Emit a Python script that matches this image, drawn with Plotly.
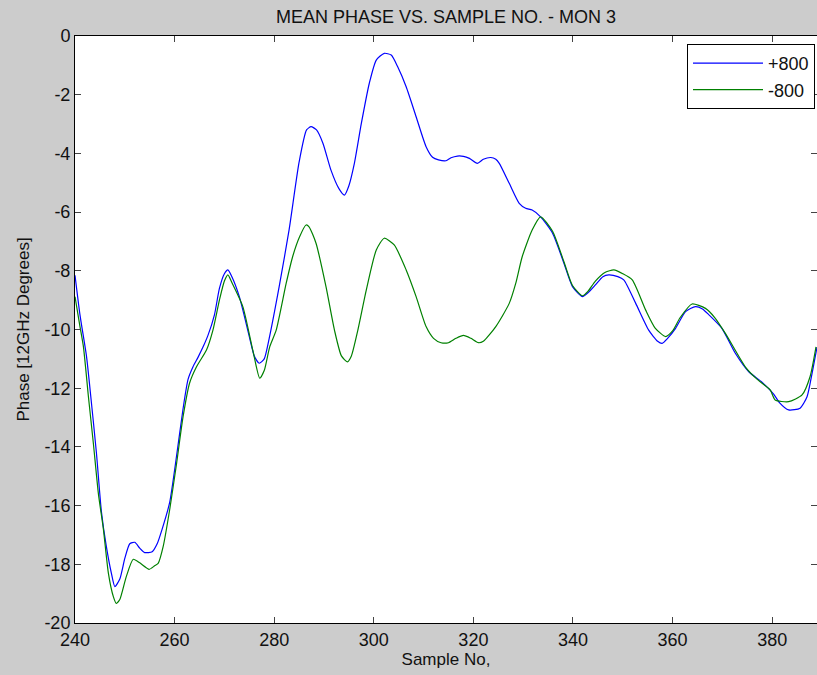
import plotly.graph_objects as go

# +800 series (blue)
x_pos = [240, 241, 242.3, 243, 244.3, 245.3, 246.3, 247.3, 248, 249, 250, 251, 252, 253, 254, 255.5,
         256.5, 257.5, 259, 260.4, 261.7, 262.7, 263.7, 264.7, 265.7, 266.7, 268, 269, 270, 270.7,
         271.5, 273, 275, 276, 277, 278, 279, 281, 283, 285, 286.5, 287.4, 288.5, 289.8, 291.4,
         293, 294.1, 295, 296.1, 297.5, 299.1, 300.5, 302.1, 303.5, 304.8, 306.5, 308.5, 310.5,
         311.8, 313, 314.5, 315.5, 316.8, 318, 319.2, 320.8, 322, 323.5, 324.5, 325.2, 327.2,
         329.2, 330.5, 331.8, 333.5, 335.9, 338.2, 339.9, 341.9, 343, 344.5, 346, 347.2, 349,
         350.2, 352.6, 355.2, 357, 357.9, 359, 360.6, 362.6, 364.6, 366, 367.3, 369.9, 372.6,
         375.3, 378, 380.3, 381.5, 383.3, 385.6, 387, 388, 389]
y_pos = [-8.15, -9.5, -10.9, -12.0, -14.2, -16.2, -17.4, -18.3, -18.76, -18.5, -17.8, -17.3, -17.25,
         -17.45, -17.6, -17.57, -17.3, -16.8, -15.9, -14.3, -12.7, -11.7, -11.27, -10.95, -10.6,
         -10.2, -9.5, -8.6, -8.1, -7.97, -8.2, -8.88, -10.24, -10.9, -11.15, -11.0, -10.3, -8.54,
         -6.6, -4.3, -3.2, -3.09, -3.2, -3.66, -4.57, -5.2, -5.42, -5.1, -4.34, -2.98, -1.61,
         -0.82, -0.59, -0.65, -1.05, -1.73, -2.75, -3.77, -4.13, -4.22, -4.25, -4.15, -4.09,
         -4.1, -4.17, -4.34, -4.2, -4.14, -4.2, -4.34, -5.02, -5.7, -5.87, -5.93, -6.16, -6.72,
         -7.75, -8.54, -8.88, -8.75, -8.48, -8.2, -8.14, -8.2, -8.31, -9.11, -10.02, -10.4,
         -10.47, -10.3, -9.96, -9.39, -9.22, -9.3, -9.5, -9.96, -10.81, -11.44, -11.8, -12.2,
         -12.5, -12.74, -12.68, -12.29, -11.5, -10.6]

# -800 series (green)
x_neg = [240, 241, 241.7, 242.7, 243.7, 244.7, 245.7, 246.7, 247.7, 248.3, 249, 250.3, 251.7, 253,
         254.9, 256, 256.7, 257.7, 259, 260.4, 261.7, 263, 264.4, 266.4, 267.7, 269, 270, 270.7,
         271.5, 273.7, 275.7, 277.1, 278, 279.1, 280.4, 282.4, 283.7, 285.1, 286.4, 287, 288.4,
         290.4, 292.1, 293.5, 294.7, 295.5, 296.8, 298.5, 300.5, 302.1, 304.1, 306.5, 308.5,
         310.5, 312, 313.5, 315, 316.5, 318, 319.5, 321, 322, 324.5, 327.2, 328.5, 329.8, 331.8,
         333.5, 335.9, 338.2, 339.9, 341.9, 343, 344.5, 346.5, 348.2, 350, 351.9, 354.6, 356.5,
         358.6, 360, 361.5, 363.9, 366.6, 368.5, 370.6, 374.6, 377, 379.6, 380.6, 383.3, 386,
         387.6, 388.8]
y_neg = [-8.88, -9.9, -10.6, -12.3, -13.9, -15.6, -16.8, -18.3, -19.1, -19.33, -19.2, -18.42, -17.83,
         -17.95, -18.17, -18.05, -17.97, -17.4, -16.15, -14.56, -12.97, -11.83, -11.27, -10.7,
         -10.02, -9.0, -8.35, -8.14, -8.4, -9.22, -10.7, -11.66, -11.4, -10.59, -10.02, -8.43,
         -7.52, -6.84, -6.44, -6.5, -7.06, -8.54, -10.02, -10.9, -11.1, -10.9, -10.02, -8.65,
         -7.29, -6.89, -7.12, -7.97, -8.88, -9.9, -10.3, -10.45, -10.45, -10.3, -10.2, -10.3,
         -10.45, -10.4, -9.9, -9.11, -8.43, -7.52, -6.61, -6.16, -6.65, -7.7, -8.5, -8.85, -8.7,
         -8.35, -8.05, -7.97, -8.1, -8.31, -9.34, -9.95, -10.24, -10.05, -9.6, -9.13, -9.28,
         -9.6, -10.13, -11.27, -11.7, -12.06, -12.4, -12.46, -12.23, -11.61, -10.59]

series_names = ["+800", "-800"]
x_ticks = [240, 260, 280, 300, 320, 340, 360, 380]
y_ticks = [0, -2, -4, -6, -8, -10, -12, -14, -16, -18, -20]

FONT = "Liberation Sans, Arial, sans-serif"

fig = go.Figure()
fig.add_trace(go.Scatter(x=x_pos, y=y_pos, mode="lines", name=series_names[0],
                         line=dict(color="#0000FF", width=1.2, shape="spline", smoothing=0.6),
                         legendgroup="a"))
fig.add_trace(go.Scatter(x=x_neg, y=y_neg, mode="lines", name=series_names[1],
                         line=dict(color="#008000", width=1.2, shape="spline", smoothing=0.6),
                         legendgroup="b"))

fig.update_layout(
    width=817, height=675,
    margin=dict(l=75, r=0, t=36, b=52),
    paper_bgcolor="#cccccc", plot_bgcolor="white",
    font=dict(family=FONT, size=18, color="#111111"),
    title=dict(text="MEAN PHASE VS. SAMPLE NO. - MON 3", x=(446 / 817), xanchor="center",
               y=1 - 17 / 675, yanchor="middle", font=dict(size=18)),
    showlegend=True,
    legend=dict(x=(815 - 75) / 742, xanchor="right", y=1 - (44 - 36) / 587, yanchor="top",
                bgcolor="white", bordercolor="black", borderwidth=1,
                font=dict(size=18), tracegroupgap=0, itemwidth=70),
    xaxis=dict(range=[240, 389], tickvals=x_ticks, ticktext=[str(v) for v in x_ticks],
               ticks="inside", ticklen=6,
               showline=True, linecolor="black", linewidth=1, mirror="ticks",
               showgrid=False, zeroline=False, tickfont=dict(size=18),
               title=dict(text="Sample No,", standoff=4, font=dict(size=17))),
    yaxis=dict(range=[-20, 0], tickvals=y_ticks, ticktext=[str(v) for v in y_ticks],
               ticks="inside", ticklen=6,
               showline=True, linecolor="black", linewidth=1, mirror="ticks",
               showgrid=False, zeroline=False, tickfont=dict(size=18),
               title=dict(text="Phase [12GHz Degrees]", standoff=10, font=dict(size=17))),
)

fig.write_html("out.html")
